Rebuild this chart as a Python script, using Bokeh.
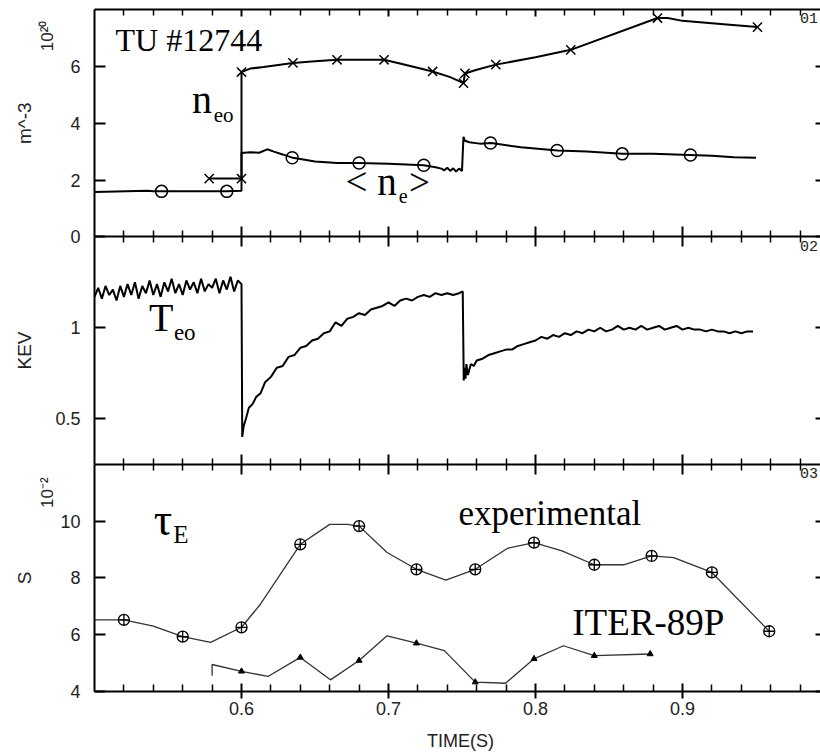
import math
from bokeh.plotting import figure
from bokeh.models import Range1d, LinearAxis, FixedTicker, Label, NumeralTickFormatter
from bokeh.embed import file_html
from bokeh.resources import INLINE

# ---------------- data ----------------
X_START, X_END = 0.5, 0.99388
X_VIEW_START = 0.43605          # room on the left for the y labels
major_x = [0.6, 0.7, 0.8, 0.9]
minor_x = [0.52, 0.54, 0.56, 0.58, 0.62, 0.64, 0.66, 0.68, 0.72, 0.74,
           0.76, 0.78, 0.82, 0.84, 0.86, 0.88, 0.92, 0.94, 0.96, 0.98]

P1 = (0.0, 8.0)      # density, 10^20 m^-3
P2 = (0.25, 1.5)     # temperature, keV
P3 = (4.0, 12.0)     # tau_E, 10^-2 s
p1_ticks = [0, 2, 4, 6]
p2_ticks = [0.5, 1.0]
p3_ticks = [4, 6, 8, 10]

# central density n_eo (x markers)
t_neo = [0.578, 0.600, 0.600, 0.606, 0.615, 0.635, 0.650, 0.665, 0.697, 0.712, 0.730,
         0.742, 0.751, 0.752, 0.760, 0.773, 0.800, 0.824, 0.883, 0.890, 0.900, 0.930, 0.951]
v_neo = [2.05, 2.05, 5.80, 5.92, 5.98, 6.12, 6.18, 6.23, 6.23, 6.05, 5.82,
         5.62, 5.41, 5.75, 5.88, 6.06, 6.32, 6.58, 7.70, 7.70, 7.60, 7.47, 7.38]
t_neo_m = [0.578, 0.600, 0.600, 0.635, 0.665, 0.697, 0.730, 0.751, 0.752, 0.773, 0.824, 0.883, 0.951]
v_neo_m = [2.05, 2.05, 5.80, 6.12, 6.23, 6.23, 5.82, 5.41, 5.75, 6.06, 6.58, 7.70, 7.38]

# line-averaged density <n_e> (circle markers)
t_ne = [0.500, 0.536, 0.540, 0.590, 0.600, 0.600, 0.606, 0.612, 0.6175, 0.622, 0.628, 0.635,
        0.650, 0.665, 0.680, 0.700, 0.724, 0.732, 0.736, 0.738, 0.740, 0.742, 0.744, 0.746,
        0.748, 0.750, 0.751, 0.752, 0.755, 0.762, 0.770, 0.790, 0.815, 0.835, 0.859, 0.880,
        0.905, 0.920, 0.935, 0.950]
v_ne = [1.58, 1.62, 1.60, 1.60, 1.62, 2.95, 2.98, 2.96, 3.08, 3.00, 2.90, 2.78,
        2.65, 2.60, 2.60, 2.57, 2.52, 2.45, 2.40, 2.34, 2.43, 2.32, 2.41, 2.30,
        2.40, 2.32, 3.52, 3.38, 3.33, 3.28, 3.30, 3.15, 3.04, 3.00, 2.92, 2.92,
        2.88, 2.85, 2.80, 2.78]
t_ne_m = [0.5456, 0.590, 0.6345, 0.680, 0.724, 0.7694, 0.8147, 0.859, 0.9054]
v_ne_m = [1.60, 1.60, 2.78, 2.60, 2.52, 3.30, 3.04, 2.92, 2.88]

# central electron temperature T_eo
t_te_a = [0.5000, 0.5025, 0.5050, 0.5075, 0.5100, 0.5125, 0.5150, 0.5175, 0.5200, 0.5225,
          0.5250, 0.5275, 0.5300, 0.5325, 0.5350, 0.5375, 0.5400, 0.5425, 0.5450, 0.5475,
          0.5500, 0.5525, 0.5550, 0.5575, 0.5600, 0.5625, 0.5650, 0.5675, 0.5700, 0.5725,
          0.5750, 0.5775, 0.5800, 0.5825, 0.5850, 0.5875, 0.5900, 0.5925, 0.5950, 0.5975, 0.6000]
v_te_a = [1.17, 1.22, 1.16, 1.23, 1.18, 1.21, 1.15, 1.23, 1.17, 1.24,
          1.18, 1.25, 1.16, 1.23, 1.19, 1.26, 1.18, 1.24, 1.17, 1.25,
          1.20, 1.27, 1.19, 1.24, 1.18, 1.26, 1.21, 1.25, 1.19, 1.27,
          1.20, 1.24, 1.22, 1.27, 1.19, 1.26, 1.21, 1.28, 1.20, 1.26, 1.24]
t_te_b = [0.6005, 0.6015, 0.6030, 0.6050, 0.6075, 0.6100, 0.6130, 0.6160, 0.6200, 0.6240,
          0.6280, 0.6320, 0.6360, 0.6400, 0.6440, 0.6480, 0.6520, 0.6560, 0.6600, 0.6640,
          0.6680, 0.6720, 0.6760, 0.6800, 0.6840, 0.6880, 0.6920, 0.6960, 0.7000, 0.7040,
          0.7080, 0.7120, 0.7160, 0.7200, 0.7240, 0.7280, 0.7320, 0.7360, 0.7400, 0.7440,
          0.7480, 0.7505]
v_te_b = [0.40, 0.46, 0.50, 0.56, 0.58, 0.62, 0.64, 0.70, 0.73, 0.78,
          0.79, 0.84, 0.85, 0.89, 0.90, 0.93, 0.94, 0.97, 0.98, 1.03,
          1.01, 1.05, 1.06, 1.08, 1.07, 1.10, 1.11, 1.12, 1.14, 1.12,
          1.15, 1.16, 1.15, 1.17, 1.18, 1.17, 1.19, 1.18, 1.19, 1.18,
          1.19, 1.20]
t_te_c = [0.7512, 0.7518, 0.7524, 0.7530, 0.7540, 0.7560, 0.7580, 0.7600, 0.7640, 0.7680,
          0.7720, 0.7760, 0.7800, 0.7840, 0.7880, 0.7920, 0.7960, 0.8000, 0.8040, 0.8080,
          0.8120, 0.8160, 0.8200, 0.8240, 0.8280, 0.8320, 0.8360, 0.8400, 0.8440, 0.8480,
          0.8520, 0.8560, 0.8600, 0.8640, 0.8680, 0.8720, 0.8760, 0.8800, 0.8840, 0.8880,
          0.8920, 0.8960, 0.9000, 0.9040, 0.9080, 0.9120, 0.9160, 0.9200, 0.9240, 0.9280,
          0.9320, 0.9360, 0.9400, 0.9440, 0.9480]
v_te_c = [0.71, 0.78, 0.72, 0.80, 0.74, 0.80, 0.79, 0.82, 0.83, 0.85,
          0.86, 0.87, 0.88, 0.88, 0.90, 0.91, 0.92, 0.93, 0.95, 0.94,
          0.96, 0.95, 0.97, 0.96, 0.98, 0.97, 0.99, 0.98, 1.00, 0.98,
          0.99, 1.01, 0.99, 1.00, 0.99, 1.01, 0.99, 1.00, 1.01, 0.99,
          1.00, 1.01, 0.99, 1.00, 0.99, 0.99, 0.98, 0.99, 0.98, 0.98,
          0.97, 0.98, 0.97, 0.98, 0.98]

# energy confinement time, experimental (circle-cross markers)
t_exp = [0.500, 0.520, 0.540, 0.560, 0.579, 0.600, 0.613, 0.640, 0.660, 0.672, 0.680, 0.699,
         0.719, 0.739, 0.759, 0.781, 0.799, 0.818, 0.840, 0.860, 0.879, 0.894, 0.920, 0.959]
v_exp = [6.52, 6.52, 6.30, 5.93, 5.73, 6.26, 7.08, 9.18, 9.88, 9.88, 9.82, 8.89,
         8.30, 7.92, 8.30, 9.04, 9.24, 8.95, 8.46, 8.46, 8.77, 8.71, 8.19, 6.12]
t_exp_m = [0.520, 0.560, 0.600, 0.640, 0.680, 0.719, 0.759, 0.799, 0.840, 0.879, 0.920, 0.959]
v_exp_m = [6.52, 5.93, 6.26, 9.18, 9.82, 8.30, 8.30, 9.24, 8.46, 8.77, 8.19, 6.12]

# ITER-89P scaling (triangle markers)
t_iter = [0.580, 0.580, 0.600, 0.618, 0.640, 0.6605, 0.680, 0.699, 0.719, 0.738,
          0.759, 0.7796, 0.799, 0.819, 0.840, 0.878]
v_iter = [4.55, 4.95, 4.71, 4.53, 5.20, 4.41, 5.09, 5.96, 5.70, 5.44,
          4.33, 4.29, 5.15, 5.61, 5.26, 5.32]
t_iter_m = [0.600, 0.640, 0.680, 0.719, 0.759, 0.799, 0.840, 0.878]
v_iter_m = [4.71, 5.20, 5.09, 5.70, 4.33, 5.15, 5.26, 5.32]

# ---------------- layout ----------------
SANS = "Liberation Sans"
SERIF = "Liberation Serif"
LBL = "#222222"
PANEL_PX = 682 / 3.0               # height of one panel in pixels
LY0 = -61 / PANEL_PX               # canvas bottom, in panel units
LY1 = 3 + 9 / PANEL_PX             # canvas top, in panel units


def panel_range(rng, base):
    span = rng[1] - rng[0]
    return Range1d(rng[0] + (LY0 - base) * span, rng[0] + (LY1 - base) * span)


p = figure(width=820, height=752, x_range=Range1d(X_VIEW_START, X_END), y_range=Range1d(LY0, LY1),
           output_backend="svg", toolbar_location=None, x_axis_location=None, y_axis_location=None,
           min_border_left=0, min_border_right=0, min_border_top=0, min_border_bottom=0)
p.extra_y_ranges = {"p1": panel_range(P1, 2), "p2": panel_range(P2, 1), "p3": panel_range(P3, 0)}
p.outline_line_color = None
p.xgrid.visible = False
p.ygrid.visible = False


def frame_axis(loc, side, tin, tout, mtin, mtout, labels=False):
    ax = LinearAxis(fixed_location=loc, bounds=(X_START, X_END),
                    ticker=FixedTicker(ticks=major_x, minor_ticks=minor_x))
    ax.axis_line_width = 2
    ax.major_tick_in = tin
    ax.major_tick_out = tout
    ax.minor_tick_in = mtin
    ax.minor_tick_out = mtout
    ax.major_tick_line_width = 2
    ax.minor_tick_line_width = 1.5
    if labels:
        ax.major_label_text_font = SANS
        ax.major_label_text_font_size = "18px"
        ax.major_label_text_color = LBL
        ax.major_label_standoff = 3
    else:
        ax.major_label_text_font_size = "1px"
        ax.major_label_text_alpha = 0
    p.add_layout(ax, side)


frame_axis(3, "above", 7, 0, 6, 0)
frame_axis(2, "below", 10, 10, 6, 6)
frame_axis(1, "below", 10, 10, 6, 6)
frame_axis(0, "below", 8, 7, 7, 0, labels=True)

for name, rng, ticks in (("p1", P1, p1_ticks), ("p2", P2, p2_ticks), ("p3", P3, p3_ticks)):
    ax = LinearAxis(y_range_name=name, fixed_location=X_START, bounds=rng,
                    ticker=FixedTicker(ticks=ticks, minor_ticks=[]))
    ax.formatter = NumeralTickFormatter(format="0.[0]")
    ax.axis_line_width = 2
    ax.major_tick_in = 11
    ax.major_tick_out = 0
    ax.major_tick_line_width = 2
    ax.minor_tick_in = 0
    ax.minor_tick_out = 0
    ax.major_label_text_font = SANS
    ax.major_label_text_font_size = "18px"
    ax.major_label_text_color = LBL
    ax.major_label_standoff = 14
    p.add_layout(ax, "left")
    rx = LinearAxis(y_range_name=name, fixed_location=X_END, bounds=rng,
                    ticker=FixedTicker(ticks=ticks, minor_ticks=[]))
    rx.axis_line_color = None
    rx.major_tick_in = 5
    rx.major_tick_out = 0
    rx.major_tick_line_width = 2
    rx.minor_tick_in = 0
    rx.minor_tick_out = 0
    rx.major_label_text_font_size = "1px"
    rx.major_label_text_alpha = 0
    p.add_layout(rx, "right")

# ---------------- data glyphs ----------------
p.line(t_neo, v_neo, y_range_name="p1", line_color="black", line_width=2)
p.scatter(t_neo_m, v_neo_m, y_range_name="p1", marker="x", size=13, line_color="black", line_width=1.5)
p.line(t_ne, v_ne, y_range_name="p1", line_color="black", line_width=2)
p.scatter(t_ne_m, v_ne_m, y_range_name="p1", marker="circle", size=12, fill_color=None,
          line_color="black", line_width=1.5)

p.line(t_te_a + t_te_b + t_te_c, v_te_a + v_te_b + v_te_c, y_range_name="p2",
       line_color="black", line_width=2)

p.line(t_exp, v_exp, y_range_name="p3", line_color="#333333", line_width=1.3)
p.scatter(t_exp_m, v_exp_m, y_range_name="p3", marker="circle_cross", size=11, fill_color=None,
          line_color="black", line_width=1.3)
p.line(t_iter, v_iter, y_range_name="p3", line_color="#333333", line_width=1.3)
p.scatter(t_iter_m, v_iter_m, y_range_name="p3", marker="triangle", size=6, fill_color="black",
          line_color="black", line_width=1)


# ---------------- text ----------------
def lab(x, y, text, rng, size, font=SERIF, **kw):
    kw.setdefault("text_baseline", "alphabetic")
    kwargs = dict(x=x, y=y, text=text, text_font=font, text_font_size=size,
                  text_color=kw.pop("color", "black"), **kw)
    if rng is not None:
        kwargs["y_range_name"] = rng
    p.add_layout(Label(**kwargs))


lab(0.5143, 6.92, "TU #12744", "p1", "32px")
lab(0.5664, 4.83, "n", "p1", "40px")
lab(0.5811, 4.28, "eo", "p1", "21px")
lab(0.6707, 1.95, "< n", "p1", "39px")
lab(0.7070, 1.42, "e", "p1", "20px")
lab(0.7139, 1.92, ">", "p1", "37px")
lab(0.5370, 1.054, "T", "p2", "40px")
lab(0.5540, 0.974, "eo", "p2", "23px")
lab(0.5403, 10.07, "τ", "p3", "46px")
lab(0.5535, 9.51, "E", "p3", "25px")
lab(0.7476, 10.27, "experimental", "p3", "35px")
lab(0.8250, 6.42, "ITER-89P", "p3", "37px")

# panel numbers
lab(0.9800, 7.88, "01", "p1", "15px", font="Liberation Mono", color=LBL, text_baseline="top")
lab(0.9800, 1.478, "02", "p2", "15px", font="Liberation Mono", color=LBL, text_baseline="top")
lab(0.9800, 11.85, "03", "p3", "15px", font="Liberation Mono", color=LBL, text_baseline="top")

# x-axis title
lab(0.749, -0.2156, "TIME(S)", None, "18px", font=SANS, color=LBL, text_align="center")

# axis titles and exponents (rotated)
lab(0.4524, 4.0, "m^-3", "p1", "19px", font=SANS, color=LBL, angle=math.pi / 2,
    text_align="center", text_baseline="middle")
lab(0.4524, 0.875, "KEV", "p2", "19px", font=SANS, color=LBL, angle=math.pi / 2,
    text_align="center", text_baseline="middle")
lab(0.4524, 8.0, "S", "p3", "19px", font=SANS, color=LBL, angle=math.pi / 2,
    text_align="center", text_baseline="middle")
lab(0.4680, 6.53, "10²⁰", "p1", "17px", font=SANS, color=LBL, angle=math.pi / 2,
    text_align="left", text_baseline="middle")
lab(0.4680, 10.46, "10⁻²", "p3", "17px", font=SANS, color=LBL, angle=math.pi / 2,
    text_align="left", text_baseline="middle")

open("out.html", "w").write(file_html(p, INLINE))
